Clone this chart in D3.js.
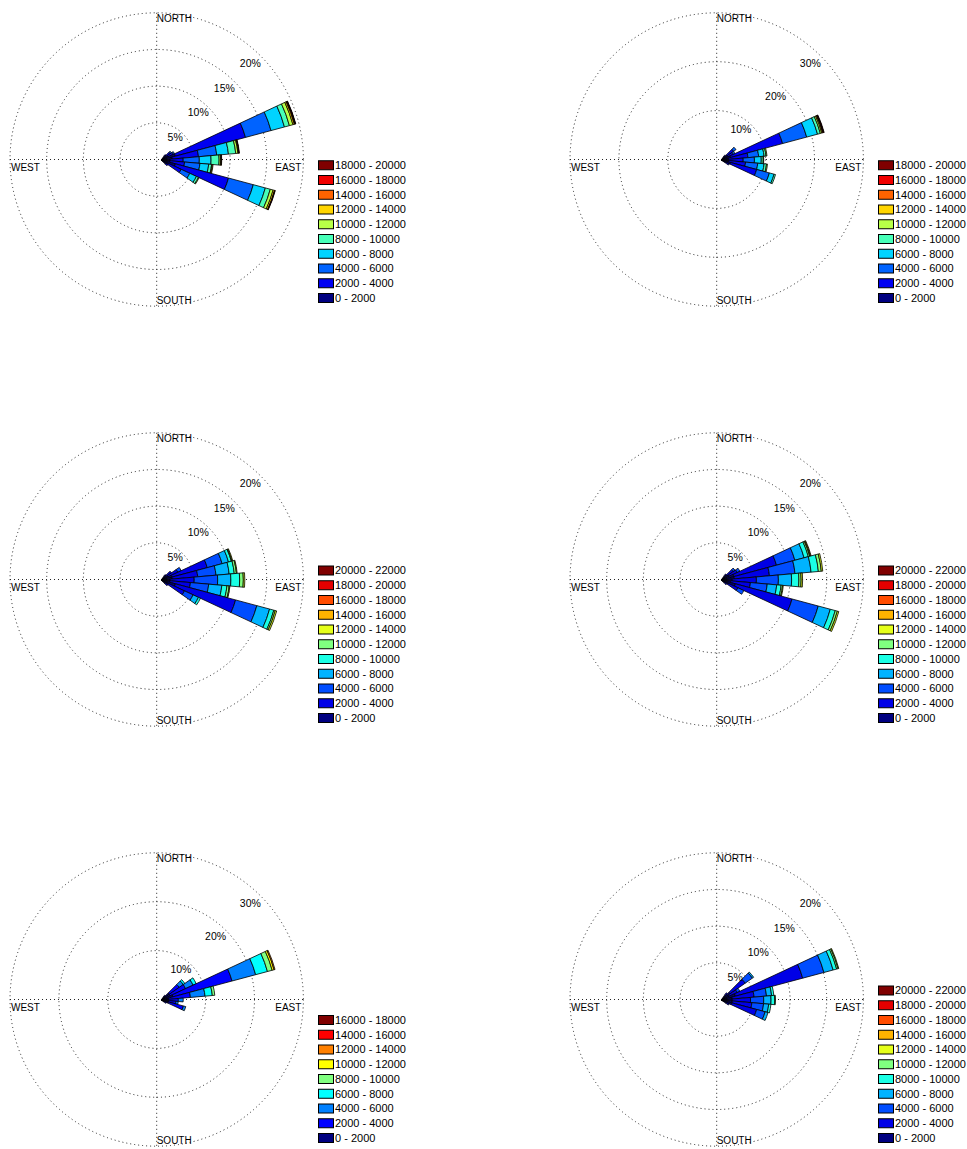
<!DOCTYPE html>
<html>
<head>
<meta charset="utf-8">
<script src="https://cdn.jsdelivr.net/npm/d3@7"></script>
<style>
  html, body { margin: 0; padding: 0; background: #fff; }
  svg { display: block; }
  text { font-family: Arial, "Liberation Sans", Helvetica, sans-serif; fill: #000; }
</style>
</head>
<body>
<svg id="chart" width="967" height="1149"></svg>
<script>
// ---- legend labels (speed classes) ----
const speedLabels9 = ["0 - 2000", "2000 - 4000", "4000 - 6000", "6000 - 8000", "8000 - 10000",
  "10000 - 12000", "12000 - 14000", "14000 - 16000", "16000 - 18000"];
const speedLabels10 = speedLabels9.concat(["18000 - 20000"]);
const speedLabels11 = speedLabels10.concat(["20000 - 22000"]);

// ---- radial tick sets (percent of observations) ----
const ticks20 = [5, 10, 15, 20];
const ticks30 = [10, 20, 30];

const compassLabels = ["NORTH", "EAST", "SOUTH", "WEST"];

// ---- per-direction frequencies (%), one column per speed class ----
// bearings in degrees clockwise from north, 10 degree sectors
const rose1Dirs = [40, 50, 60, 70, 80, 90, 100, 110, 120, 130];
const rose1Freq = [
  [0.6, 0.3],
  [0.9, 0.6, 0.2],
  [1.0, 0.8, 0.2],
  [2.0, 9.9, 3.6, 1.9, 0.7, 0.5, 0.2, 0.1, 0.05, 0.05],
  [1.5, 3.6, 2.5, 1.6, 1.0, 0.3, 0.1, 0.05, 0.05],
  [1.2, 1.8, 2.2, 1.6, 1.1, 0.2, 0.1, 0.05],
  [1.2, 2.0, 2.1, 1.2, 0.4, 0.1, 0.1],
  [2.0, 7.5, 3.5, 1.7, 0.7, 0.4, 0.2, 0.05, 0.05],
  [1.0, 2.0, 1.3, 1.0, 0.3, 0.1],
  [0.8, 0.3]
];

const rose2Dirs = [40, 50, 60, 70, 80, 90, 100, 110, 120];
const rose2Freq = [
  [0.8, 0.4],
  [1.5, 1.6, 0.6],
  [1.5, 1.2, 0.4],
  [2.0, 11.0, 5.1, 2.3, 0.6, 0.3, 0.2, 0.1, 0.1, 0.1],
  [1.5, 4.0, 2.2, 1.1, 0.4, 0.2],
  [1.5, 3.0, 2.3, 1.4, 0.4, 0.1],
  [1.5, 3.5, 2.5, 1.3, 0.5, 0.2],
  [2.0, 5.5, 2.7, 1.0, 0.3],
  [1.0, 0.8]
];

const rose3Dirs = [40, 50, 60, 70, 80, 90, 100, 110, 120, 130];
const rose3Freq = [
  [0.6, 0.3],
  [0.9, 0.8],
  [1.0, 1.5, 0.5],
  [1.5, 5.0, 2.1, 0.9, 0.4, 0.1, 0.1],
  [1.5, 3.5, 2.5, 1.8, 0.7, 0.3, 0.1],
  [1.2, 3.3, 3.2, 1.8, 1.2, 0.5, 0.2],
  [1.2, 2.8, 2.5, 1.8, 0.7, 0.3, 0.1],
  [2.0, 8.5, 3.0, 1.8, 0.6, 0.2, 0.2],
  [1.0, 2.5, 1.3, 0.8, 0.3],
  [0.7, 0.4]
];

const rose4Dirs = [40, 50, 60, 70, 80, 90, 100, 110, 120, 130];
const rose4Freq = [
  [0.6, 0.4],
  [1.0, 1.0, 0.3],
  [1.2, 1.2, 0.4],
  [1.8, 6.0, 2.6, 1.3, 0.6, 0.2, 0.1, 0.1],
  [1.8, 4.8, 3.5, 2.2, 1.0, 0.4, 0.2],
  [1.5, 3.3, 3.0, 1.8, 1.0, 0.3, 0.2],
  [1.3, 2.7, 2.3, 1.3, 0.6, 0.2, 0.1],
  [2.0, 8.0, 3.7, 1.7, 0.7, 0.3, 0.2],
  [1.0, 1.5, 0.9],
  [0.6, 0.3]
];

const rose5Dirs = [40, 50, 60, 70, 80, 90, 100, 110, 120];
const rose5Freq = [
  [0.8, 0.4],
  [2.0, 2.5, 1.0, 0.4],
  [2.0, 3.5, 1.7, 0.7],
  [2.5, 12.5, 5.0, 2.5, 1.0, 0.4, 0.2],
  [1.5, 4.5, 3.0, 1.5, 0.5],
  [1.5, 2.0, 1.0],
  [1.5, 1.5, 0.5],
  [1.5, 3.2, 0.5],
  [0.8, 0.4]
];

const rose6Dirs = [40, 50, 60, 70, 80, 90, 100, 110, 120];
const rose6Freq = [
  [0.8, 0.4],
  [1.5, 2.5, 1.2, 0.2],
  [1.2, 1.2, 0.4],
  [2.0, 9.5, 3.0, 1.3, 0.5, 0.2, 0.1],
  [1.5, 3.0, 1.7, 0.7, 0.3],
  [1.5, 2.5, 1.8, 1.0, 0.5, 0.1],
  [1.5, 2.7, 1.6, 0.7, 0.3],
  [1.5, 3.5, 1.2, 0.4],
  [0.8, 0.4]
];

// ---- panel table ----
const panels = [
  { x: 0,   y: 0,   max: 20, ticks: ticks20, dirs: rose1Dirs, freq: rose1Freq, labels: speedLabels10 },
  { x: 560, y: 0,   max: 30, ticks: ticks30, dirs: rose2Dirs, freq: rose2Freq, labels: speedLabels10 },
  { x: 0,   y: 420, max: 20, ticks: ticks20, dirs: rose3Dirs, freq: rose3Freq, labels: speedLabels11 },
  { x: 560, y: 420, max: 20, ticks: ticks20, dirs: rose4Dirs, freq: rose4Freq, labels: speedLabels11 },
  { x: 0,   y: 840, max: 30, ticks: ticks30, dirs: rose5Dirs, freq: rose5Freq, labels: speedLabels9 },
  { x: 560, y: 840, max: 20, ticks: ticks20, dirs: rose6Dirs, freq: rose6Freq, labels: speedLabels11 }
];

// ---- geometry ----
const cx = 156.7, cy = 159.5, R = 146.7;   // polar frame within a panel
const hubDx = 4.5, hubDy = 0.5;            // sector hub relative to frame centre
const sector = 10;                          // sector width, degrees
const legendX = 318.5, legendBottom = 293.5, legendPitch = 14.75;
const swatchW = 15, swatchH = 9;

// MATLAB-style jet colormap
function jet(t) {
  const c = v => Math.max(0, Math.min(1, v));
  return d3.rgb(
    Math.round(255 * c(1.5 - Math.abs(4 * t - 3))),
    Math.round(255 * c(1.5 - Math.abs(4 * t - 2))),
    Math.round(255 * c(1.5 - Math.abs(4 * t - 1)))
  ).formatHex();
}

const svg = d3.select("#chart");
const arc = d3.arc();
const rad = d => d * Math.PI / 180;

panels.forEach(p => {
  const g = svg.append("g").attr("transform", `translate(${p.x},${p.y})`);
  const r = d3.scaleLinear().domain([0, p.max]).range([0, R]);
  const nBins = p.labels.length;
  const color = d3.scaleOrdinal()
    .domain(d3.range(nBins))
    .range(d3.range(nBins).map(i => jet(i / (nBins - 1))));

  // dotted grid: rings and compass cross
  const grid = g.append("g")
    .attr("fill", "none")
    .attr("stroke", "#222")
    .attr("stroke-width", 1)
    .attr("stroke-dasharray", "1 3");
  grid.selectAll("circle").data(p.ticks).join("circle")
    .attr("cx", cx).attr("cy", cy).attr("r", d => r(d));
  grid.append("line").attr("x1", cx - R).attr("x2", cx + R).attr("y1", cy).attr("y2", cy);
  grid.append("line").attr("x1", cx).attr("x2", cx).attr("y1", cy - R).attr("y2", cy + R);

  // stacked sectors
  const rose = g.append("g").attr("transform", `translate(${cx + hubDx},${cy + hubDy})`);
  p.dirs.forEach((b, i) => {
    const vals = p.freq[i];
    const cum = d3.cumsum(vals);
    const segs = vals.map((v, k) => ({ k, r0: k ? cum[k - 1] : 0, r1: cum[k] }))
      .filter(s => s.r1 > s.r0);
    rose.selectAll(null).data(segs).join("path")
      .attr("d", s => arc({
        innerRadius: r(s.r0), outerRadius: r(s.r1),
        startAngle: rad(b - sector / 2), endAngle: rad(b + sector / 2)
      }))
      .attr("fill", s => color(s.k))
      .attr("stroke", "#000")
      .attr("stroke-width", 0.8)
      .attr("stroke-linejoin", "round");
  });

  // compass labels
  const lab = g.append("g").attr("font-size", 10);
  lab.append("text").attr("x", cx).attr("y", cy - R + 9.5).text(compassLabels[0]);
  lab.append("text").attr("x", cx + R - 2).attr("y", cy + 11).attr("text-anchor", "end").text(compassLabels[1]);
  lab.append("text").attr("x", cx).attr("y", cy + R - 2).text(compassLabels[2]);
  lab.append("text").attr("x", cx - R + 1).attr("y", cy + 11).text(compassLabels[3]);

  // percent labels along the north-east diagonal
  g.append("g").attr("font-size", 10.5).attr("text-anchor", "end")
    .selectAll("text").data(p.ticks).join("text")
    .attr("x", d => cx + 0.71 * r(d))
    .attr("y", d => cy - 0.673 * r(d) - 1.5 + 7.6)
    .text(d => d + "%");

  // legend, highest class on top
  const leg = g.append("g");
  const rows = leg.selectAll("g").data(d3.range(nBins)).join("g")
    .attr("transform", i => `translate(${legendX},${legendBottom - i * legendPitch})`);
  rows.append("rect")
    .attr("width", swatchW).attr("height", swatchH)
    .attr("fill", i => color(i))
    .attr("stroke", "#000").attr("stroke-width", 1);
  rows.append("text")
    .attr("x", swatchW + 1.5).attr("y", 8.4)
    .attr("font-size", 11)
    .text(i => p.labels[i]);
});
</script>
</body>
</html>
